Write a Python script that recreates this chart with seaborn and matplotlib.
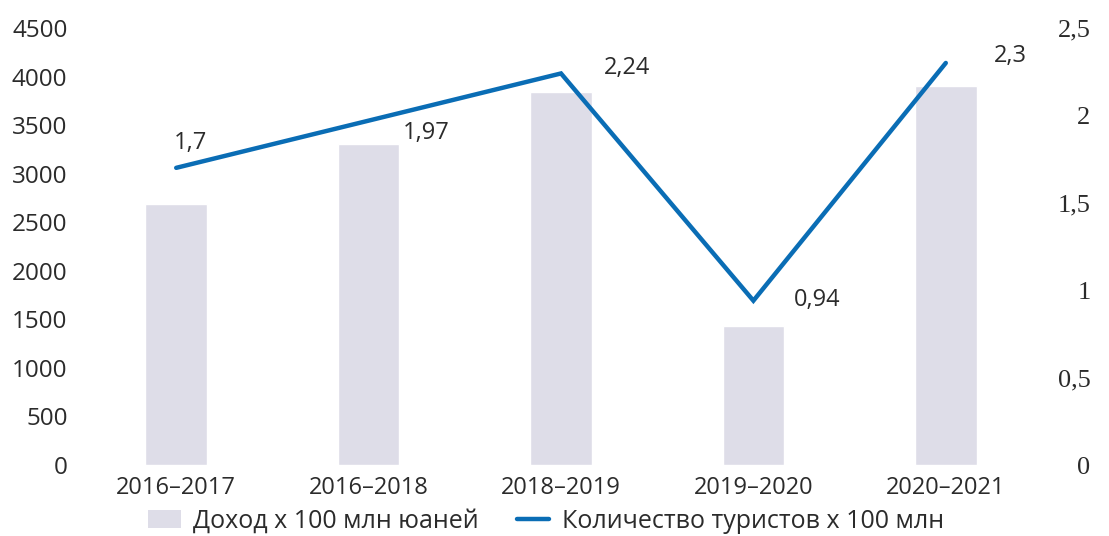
import seaborn as sns
import matplotlib.pyplot as plt
import pandas as pd
from matplotlib.lines import Line2D
from matplotlib.patches import Patch

# Data
years = ['2016–2017', '2016–2018', '2018–2019', '2019–2020', '2020–2021']
income = [2690, 3310, 3840, 1430, 3900]          # Доход x 100 млн юаней
tourists = [1.7, 1.97, 2.24, 0.94, 2.3]          # Количество туристов x 100 млн
tourist_labels = ['1,7', '1,97', '2,24', '0,94', '2,3']
left_ticks = [0, 500, 1000, 1500, 2000, 2500, 3000, 3500, 4000, 4500]
right_ticks = [0, 0.5, 1, 1.5, 2, 2.5]
right_tick_labels = ['0', '0,5', '1', '1,5', '2', '2,5']

BAR_COLOR = '#dedde8'
LINE_COLOR = '#0a6db5'
TEXT_COLOR = '#2b2b2b'

sns.set_theme(style='white')
plt.rcParams['font.family'] = ['Open Sans', 'DejaVu Sans']

df = pd.DataFrame({'year': years, 'income': income, 'tourists': tourists})

W, H = 1109, 536
fig = plt.figure(figsize=(W / 100, H / 100), dpi=100)
ax = fig.add_axes([80 / W, 1 - 465 / H, 962 / W, 437 / H])

sns.barplot(data=df, x='year', y='income', color=BAR_COLOR, width=0.32,
            saturation=1, ax=ax)
ax.set_ylim(0, 4500)
ax.set_xlim(-0.5, 4.5)
ax.set_yticks(left_ticks)
ax.set_xlabel('')
ax.set_ylabel('')
ax.tick_params(axis='y', labelsize=17.5, colors=TEXT_COLOR, length=0, pad=9)
ax.tick_params(axis='x', labelsize=17, colors=TEXT_COLOR, length=0, pad=8)
for s in ax.spines.values():
    s.set_visible(False)

ax2 = ax.twinx()
sns.lineplot(x=range(len(years)), y=tourists, color=LINE_COLOR, linewidth=3.2,
             ax=ax2, solid_joinstyle='miter')
ax2.set_ylim(0, 2.5)
ax2.set_yticks(right_ticks)
ax2.set_yticklabels(right_tick_labels, family=['Liberation Serif', 'DejaVu Serif'])
ax2.tick_params(axis='y', labelsize=19, colors=TEXT_COLOR, length=0, pad=35)
for lab in ax2.get_yticklabels():
    lab.set_horizontalalignment('right')
for s in ax2.spines.values():
    s.set_visible(False)

# value labels next to the line points
offsets = [(14, 25), (58, -12), (66, 5), (64, 1), (65, 7)]
for i, (v, lab) in enumerate(zip(tourists, tourist_labels)):
    ax2.annotate(lab, (i, v), xytext=offsets[i], textcoords='offset pixels',
                 ha='center', va='center', fontsize=17, color=TEXT_COLOR)

handles = [Patch(facecolor=BAR_COLOR, edgecolor='none'),
           Line2D([0], [0], color=LINE_COLOR, linewidth=3.2)]
fig.legend(handles, ['Доход x 100 млн юаней', 'Количество туристов x 100 млн'],
           loc='center', bbox_to_anchor=(546 / W, 1 - 521 / H), ncol=2,
           frameon=False, fontsize=18, handlelength=1.3, columnspacing=1.5,
           handletextpad=0.5, labelcolor=TEXT_COLOR)

fig.savefig('out.png', dpi=100)
